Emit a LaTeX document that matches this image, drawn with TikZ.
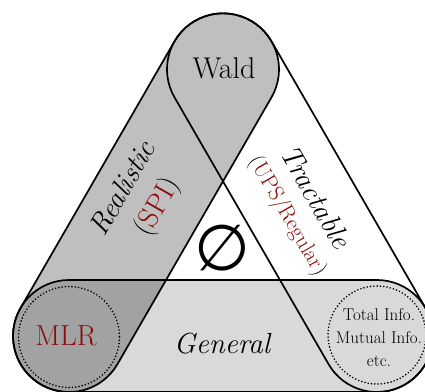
\documentclass[tikz,border=0pt]{standalone}
\usepackage{fontspec}
\newfontfamily\symfont{DejaVu Sans}
\definecolor{darkred}{RGB}{140,12,12}
\begin{document}
\begin{tikzpicture}[x=1pt,y=-1pt,
  outline/.style={draw=black, line width=1.7pt, rounded corners=56pt},
  dotring/.style={draw=black, line width=1.8pt, line cap=round, dash pattern=on 0pt off 3.3pt},
  bigtxt/.style={inner sep=0pt, font=\fontsize{30}{34}\selectfont},
  slanttxt/.style={inner sep=0pt, font=\fontsize{29}{34}\selectfont\itshape},
  midtxt/.style={inner sep=0pt, font=\fontsize{22}{26}\selectfont},
  smalltxt/.style={inner sep=0pt, align=center, font=\fontsize{17}{23}\selectfont}]
\useasboundingbox (0,0) rectangle (425,391);
\clip (0,0) rectangle (425,391);
\fill[white] (0,0) rectangle (425,391);
% fills
\path[fill=black, fill opacity=0.15, rounded corners=56pt] (13,280) rectangle (433,392);
\begin{scope}[shift={(146,202.7)}, rotate=60]
  \path[fill=black, fill opacity=0.25, rounded corners=56pt] (-210,-56) rectangle (210,56);
\end{scope}
% outlines
\draw[outline] (13,280) rectangle (433,392);
\begin{scope}[shift={(146,202.7)}, rotate=60]
  \draw[outline] (-210,-56) rectangle (210,56);
\end{scope}
\begin{scope}[shift={(300,202.7)}, rotate=-60]
  \draw[outline] (-210,-56) rectangle (210,56);
\end{scope}
% dotted rings
\draw[dotring] (69,337) circle[radius=50.5];
\draw[dotring] (377,335) circle[radius=49];
% labels
\node[bigtxt] (wald) at (224,68) {Wald};
\node[bigtxt, font=\fontsize{29}{34}\selectfont, text=darkred] (mlr) at (66,336) {MLR};
\node[slanttxt] (general) at (222,344) {General};
\node[smalltxt] (info) at (379,338) {Total Info.\\Mutual Info.\\etc.};
\node[slanttxt, rotate=60] (realistic) at (122,188) {Realistic};
\node[bigtxt, font=\fontsize{29}{34}\selectfont, rotate=60] (spi) at (158,207) {(\textcolor{darkred}{SPI})};
\node[slanttxt, rotate=-60] (tractable) at (316,197) {Tractable};
\node[midtxt, rotate=-60] (ups) at (287,216) {(\textcolor{darkred}{UPS/Regular})};
\node[inner sep=0pt, font=\symfont\fontsize{64}{70}\selectfont] (empty) at (222,248) {∅};
\end{tikzpicture}
\end{document}
